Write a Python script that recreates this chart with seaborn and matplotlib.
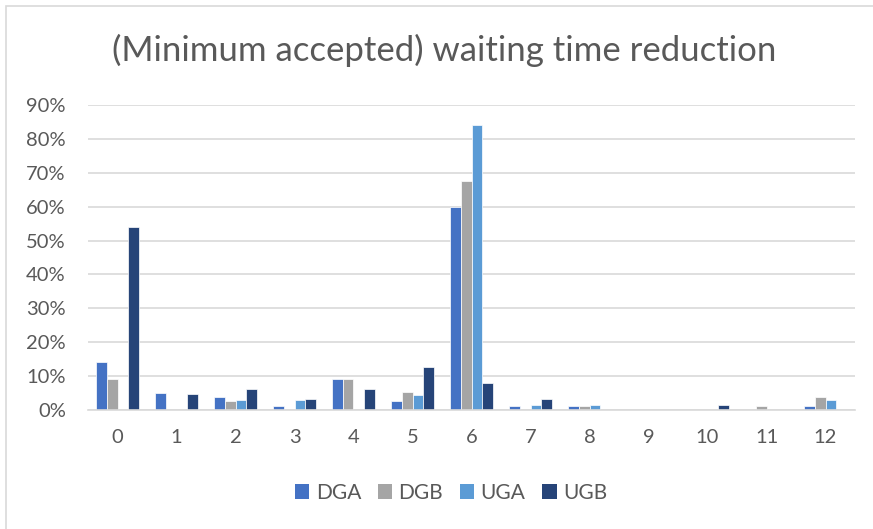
import matplotlib
matplotlib.use("Agg")
import matplotlib.pyplot as plt
import seaborn as sns
import pandas as pd
from matplotlib.patches import Rectangle
from matplotlib.ticker import PercentFormatter

categories = ["0", "1", "2", "3", "4", "5", "6", "7", "8", "9", "10", "11", "12"]
series_names = ["DGA", "DGB", "UGA", "UGB"]
dga = [14.2, 5.1, 3.8, 1.3, 9.1, 2.7, 59.9, 1.3, 1.3, 0, 0, 0, 1.3]
dgb = [9.1, 0, 2.7, 0, 9.1, 5.2, 67.6, 0, 1.3, 0, 0, 1.3, 3.8]
uga = [0, 0, 3.0, 3.0, 0, 4.4, 84.0, 1.6, 1.6, 0, 0, 0, 2.9]
ugb = [54.0, 4.7, 6.3, 3.2, 6.3, 12.7, 7.9, 3.2, 0, 0, 1.5, 0, 0]
colors = ["#4472C4", "#A5A5A5", "#5B9BD5", "#264478"]

rows = []
for name, vals in zip(series_names, [dga, dgb, uga, ugb]):
    for c, v in zip(categories, vals):
        rows.append({"cat": c, "series": name, "value": v / 100.0})
df = pd.DataFrame(rows)

sns.set_theme(style="white")
plt.rcParams["font.family"] = ["Lato", "DejaVu Sans"]
text_color = "#595959"

W, H = 873, 529
fig = plt.figure(figsize=(W / 100, H / 100), dpi=100)
fig.patch.set_facecolor("white")
fig.add_artist(Rectangle((6 / W, -0.1), 1.2, (529 - 6) / H + 0.1,
                         transform=fig.transFigure, fill=False,
                         edgecolor="#D9D9D9", linewidth=1.2))

ax = fig.add_axes([88 / W, (H - 410) / H, (855 - 88) / W, (410 - 105) / H])
sns.barplot(data=df, x="cat", y="value", hue="series", order=categories,
            hue_order=series_names, palette=colors, width=0.73, saturation=1,
            edgecolor="white", linewidth=0.5, ax=ax, legend=False)

ax.set_ylim(0, 0.9)
ax.set_yticks([i / 10 for i in range(10)])
ax.yaxis.set_major_formatter(PercentFormatter(1.0, decimals=0))
ax.grid(axis="y", color="#D9D9D9", linewidth=1.2)
ax.set_axisbelow(True)
for s in ["left", "right", "top"]:
    ax.spines[s].set_visible(False)
ax.spines["bottom"].set_color("#D9D9D9")
ax.spines["bottom"].set_linewidth(1.2)
ax.tick_params(axis="both", length=0, labelsize=14.5, colors=text_color)
ax.tick_params(axis="y", pad=16)
ax.tick_params(axis="x", pad=14)
ax.set_xlabel("")
ax.set_ylabel("")

fig.text(444 / W, 1 - 50 / H, "(Minimum accepted) waiting time reduction",
         ha="center", va="center", fontsize=25, color=text_color)

handles = [Rectangle((0, 0), 1, 1, facecolor=c, edgecolor="none") for c in colors]
fig.legend(handles, series_names, loc="center", bbox_to_anchor=(451 / W, 1 - 493 / H),
           ncol=4, frameon=False, fontsize=15, handlelength=0.7, handleheight=0.7,
           handletextpad=0.3, columnspacing=0.8, labelcolor=text_color)

fig.savefig("out.png", dpi=100, facecolor="white")
